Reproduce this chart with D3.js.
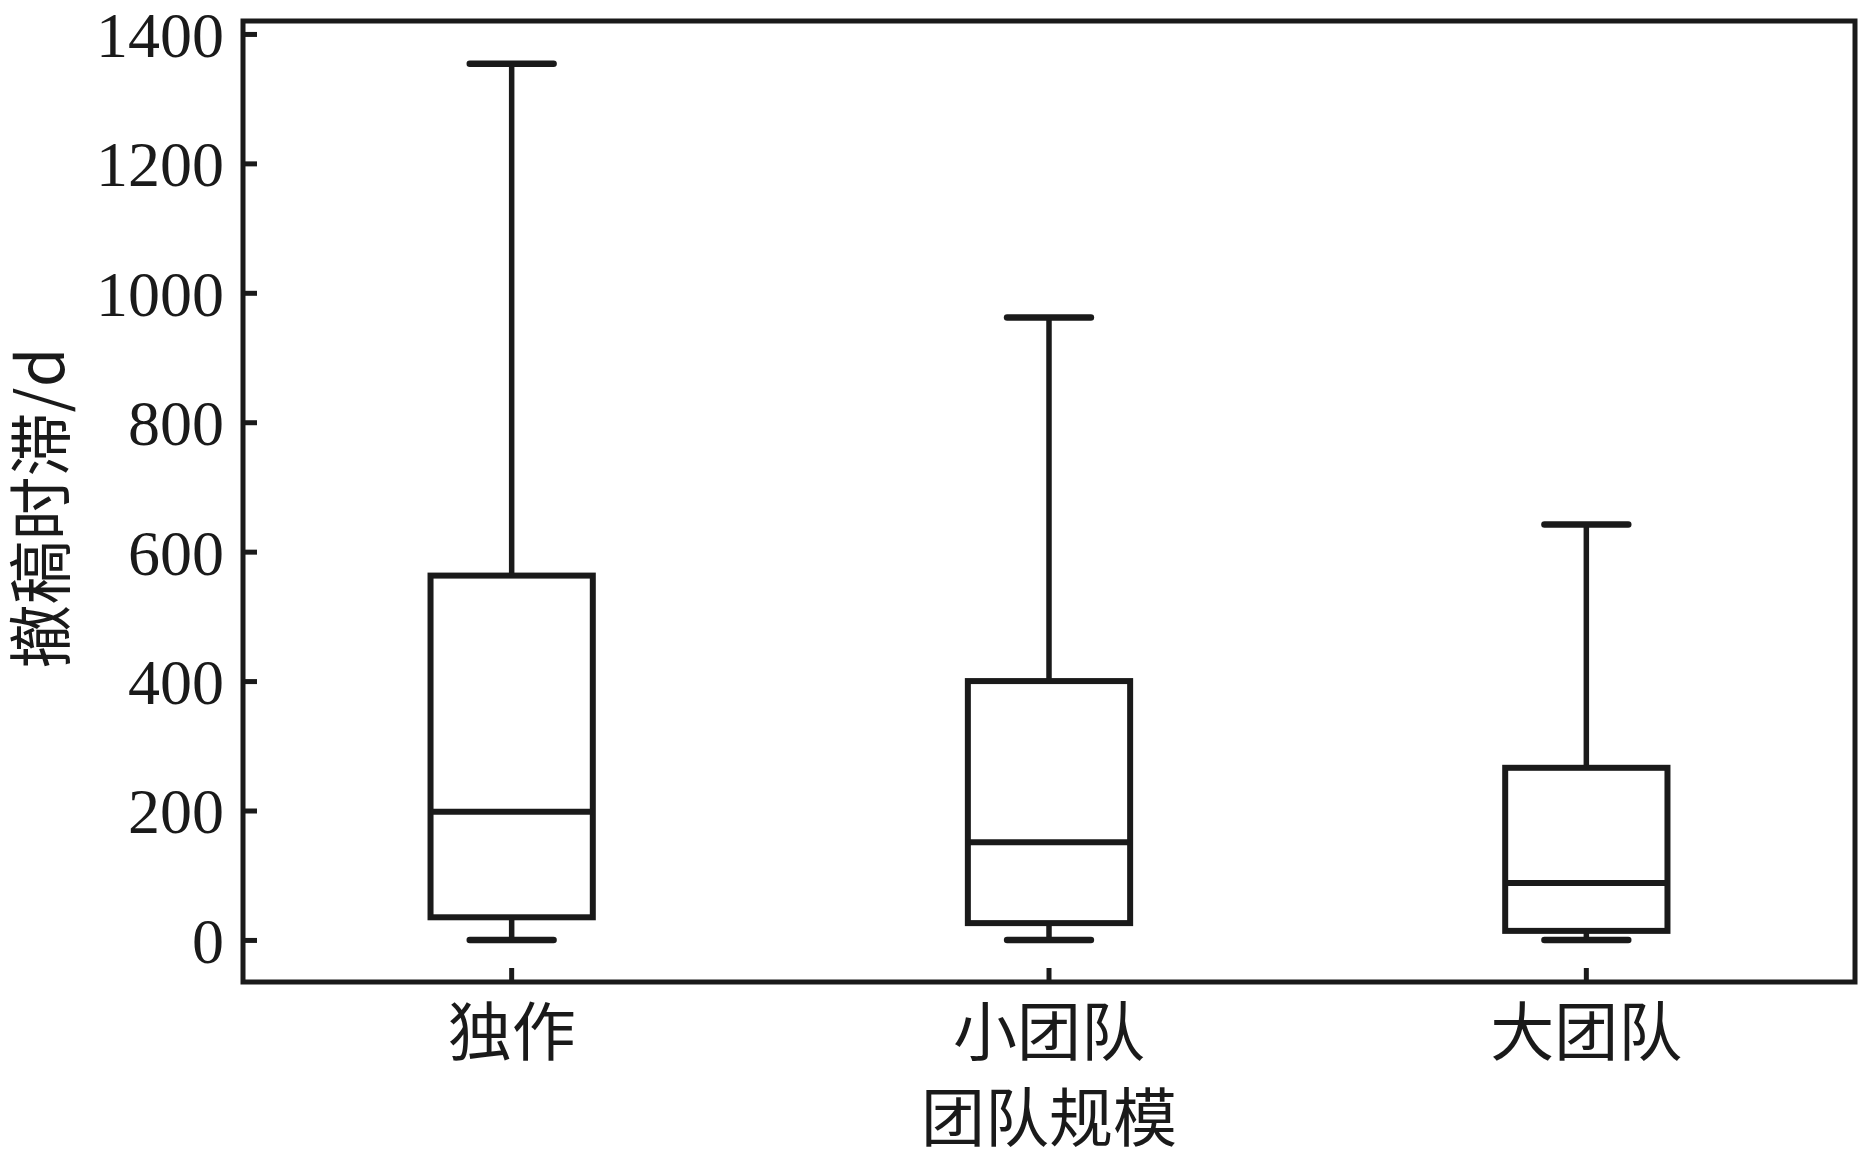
<!DOCTYPE html>
<html>
<head>
<meta charset="utf-8">
<script src="https://cdn.jsdelivr.net/npm/d3@7"></script>
<style>
  html, body { margin: 0; padding: 0; background: #fff; }
  svg { display: block; }
</style>
</head>
<body>
<svg id="chart" width="1859" height="1162"></svg>
<script>
// ---- data ----
const categories = ["独作", "小团队", "大团队"];
const mins    = [0, 0, 0];
const q1s     = [35, 26, 14];
const medians = [198, 151, 88];
const q3s     = [563, 400, 266];
const maxs    = [1354, 962, 642];
const yTicks  = [0, 200, 400, 600, 800, 1000, 1200, 1400];
const xTitle  = "团队规模";
const yTitle  = "撤稿时滞/d";

// ---- layout ----
const plotL = 243, plotR = 1855, plotT = 21, plotB = 982;
const ink = "#1a1a1a";
const numFont = "'Liberation Serif', 'Times New Roman', serif";
const cjkFont = "'Noto Sans CJK SC', sans-serif";

const svg = d3.select("#chart");

const x = d3.scaleBand().domain(categories).range([plotL, plotR]).padding(0);
const y = d3.scaleLinear().domain([-65, 1420]).range([plotB, plotT]);

const boxes = categories.map((c, i) => ({
  c, min: mins[i], q1: q1s[i], med: medians[i], q3: q3s[i], max: maxs[i]
}));

const cx = c => x(c) + x.bandwidth() / 2;
const boxW = x.bandwidth() * 0.302;
const capW = x.bandwidth() * 0.156;

// y axis
const yAxis = d3.axisLeft(y).tickValues(yTicks).tickFormat(d3.format("d"))
  .tickSizeInner(-14).tickSizeOuter(0).tickPadding(19);
const gy = svg.append("g").attr("transform", `translate(${plotL},0)`).call(yAxis);
gy.select(".domain").remove();
gy.selectAll(".tick line").attr("stroke", ink).attr("stroke-width", 5);
gy.selectAll(".tick text")
  .attr("fill", ink)
  .attr("font-family", numFont)
  .attr("font-size", 64)
  .attr("dy", "0.35em");

// x axis
const xAxis = d3.axisBottom(x).tickSizeInner(-14).tickSizeOuter(0).tickPadding(0);
const gx = svg.append("g").attr("transform", `translate(0,${plotB})`).call(xAxis);
gx.select(".domain").remove();
gx.selectAll(".tick line").attr("stroke", ink).attr("stroke-width", 5);
gx.selectAll(".tick text")
  .attr("fill", ink)
  .attr("font-family", cjkFont)
  .attr("font-size", 64)
  .attr("y", 73)
  .attr("dy", 0);

// frame
svg.append("rect")
  .attr("x", plotL).attr("y", plotT)
  .attr("width", plotR - plotL).attr("height", plotB - plotT)
  .attr("fill", "none").attr("stroke", ink).attr("stroke-width", 5);

// boxes
const g = svg.append("g").attr("stroke", ink).attr("fill", "none");
const bg = g.selectAll("g.box").data(boxes).join("g").attr("class", "box");

// whiskers
bg.append("line")
  .attr("x1", d => cx(d.c)).attr("x2", d => cx(d.c))
  .attr("y1", d => y(d.q3)).attr("y2", d => y(d.max))
  .attr("stroke-width", 5.5);
bg.append("line")
  .attr("x1", d => cx(d.c)).attr("x2", d => cx(d.c))
  .attr("y1", d => y(d.q1)).attr("y2", d => y(d.min))
  .attr("stroke-width", 5.5);
// caps
bg.append("line")
  .attr("x1", d => cx(d.c) - capW / 2).attr("x2", d => cx(d.c) + capW / 2)
  .attr("y1", d => y(d.max)).attr("y2", d => y(d.max))
  .attr("stroke-width", 6.5).attr("stroke-linecap", "round");
bg.append("line")
  .attr("x1", d => cx(d.c) - capW / 2).attr("x2", d => cx(d.c) + capW / 2)
  .attr("y1", d => y(d.min)).attr("y2", d => y(d.min))
  .attr("stroke-width", 6.5).attr("stroke-linecap", "round");
// box
bg.append("rect")
  .attr("x", d => cx(d.c) - boxW / 2)
  .attr("width", boxW)
  .attr("y", d => y(d.q3))
  .attr("height", d => y(d.q1) - y(d.q3))
  .attr("fill", "#fff")
  .attr("stroke-width", 6);
// median
bg.append("line")
  .attr("x1", d => cx(d.c) - boxW / 2).attr("x2", d => cx(d.c) + boxW / 2)
  .attr("y1", d => y(d.med)).attr("y2", d => y(d.med))
  .attr("stroke-width", 6);

// axis titles
svg.append("text")
  .attr("x", (plotL + plotR) / 2)
  .attr("y", 1141)
  .attr("text-anchor", "middle")
  .attr("font-family", cjkFont)
  .attr("font-size", 64)
  .attr("fill", ink)
  .text(xTitle);

svg.append("text")
  .attr("transform", `translate(64,508) rotate(-90)`)
  .attr("text-anchor", "middle")
  .attr("font-family", cjkFont)
  .attr("font-size", 64)
  .attr("fill", ink)
  .text(yTitle);
</script>
</body>
</html>
